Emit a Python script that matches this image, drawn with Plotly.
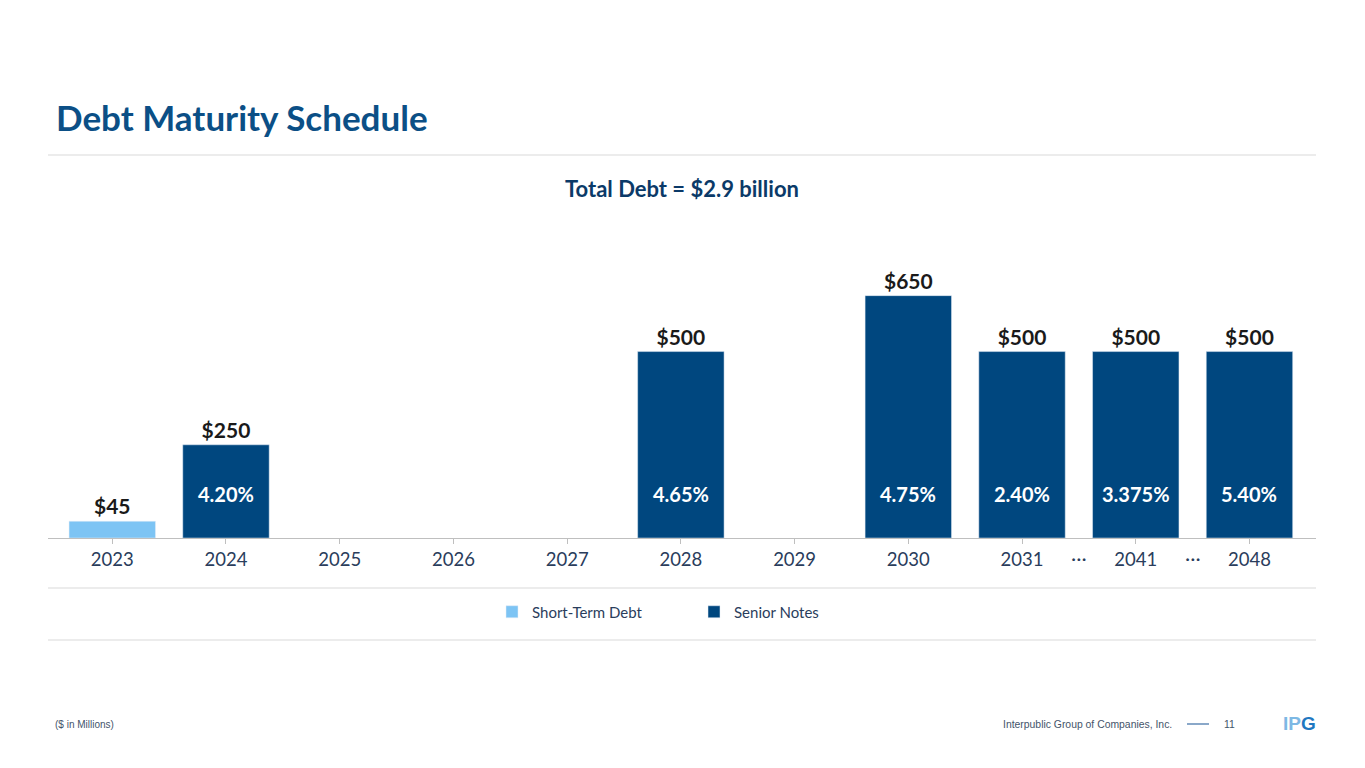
import plotly.graph_objects as go

# ---- data ----
categories = ["2023", "2024", "2025", "2026", "2027", "2028", "2029", "2030", "2031", "2041", "2048"]
short_term_years = ["2023"]
short_term_values = [45]
senior_years = ["2024", "2028", "2030", "2031", "2041", "2048"]
senior_values = [250, 500, 650, 500, 500, 500]
senior_rates = ["4.20%", "4.65%", "4.75%", "2.40%", "3.375%", "5.40%"]
gap_after = ["2031", "2041"]  # an ellipsis follows these categories

# ---- styles ----
DARK = "#00477F"
LIGHT = "#7DC4F4"
NAVY_TXT = "#2A3D5C"
GRID = "#D9D9D9"
FONT = "Lato"

OFF = 8            # page body margin
L, T = 40, 269     # plot margins (figure px)
PW, PH = 1268, 261 # plot area size
W, H = 1349, 752

idx = {c: i for i, c in enumerate(categories)}

def px(sx):  # screen x -> paper x
    return (sx - OFF - L) / PW

def py(sy):  # screen y -> paper y
    return (T + PH + OFF - sy) / PH

fig = go.Figure()
fig.add_trace(go.Bar(
    x=[idx[c] for c in short_term_years], y=short_term_values,
    name="Short-Term Debt", marker_color=LIGHT, width=0.76,
    text=[f"${v}" for v in short_term_values], textposition="outside",
    textfont=dict(family=FONT, size=21, color="#1A1A1A", weight="bold"),
    cliponaxis=False, hoverinfo="skip",
))
fig.add_trace(go.Bar(
    x=[idx[c] for c in senior_years], y=senior_values,
    name="Senior Notes", marker_color=DARK, width=0.76,
    text=[f"${v}" for v in senior_values], textposition="outside",
    textfont=dict(family=FONT, size=21, color="#1A1A1A", weight="bold"),
    cliponaxis=False, hoverinfo="skip",
))

annotations = []
RATE_Y = 118
for c, r in zip(senior_years, senior_rates):
    annotations.append(dict(x=idx[c], y=RATE_Y, xref="x", yref="y", text=f"<b>{r}</b>",
                            showarrow=False, font=dict(family=FONT, size=20, color="white")))
for c in gap_after:
    annotations.append(dict(x=idx[c] + 0.5, y=0, xref="x", yref="paper", yshift=-30,
                            text="...", showarrow=False,
                            font=dict(family=FONT, size=22, color=NAVY_TXT)))

annotations += [
    dict(x=px(54), y=py(117), xref="paper", yref="paper", xanchor="left", yanchor="middle",
         text="<b>Debt Maturity Schedule</b>", showarrow=False,
         font=dict(family=FONT, size=35, color="#0B4F86")),
    dict(x=px(682), y=py(188), xref="paper", yref="paper", xanchor="center", yanchor="middle",
         text="<b>Total Debt = $2.9 billion</b>", showarrow=False,
         font=dict(family=FONT, size=22, color="#0B3A68")),
    dict(x=px(53), y=py(724), xref="paper", yref="paper", xanchor="left", yanchor="middle",
         text="($ in Millions)", showarrow=False,
         font=dict(family="Liberation Sans", size=10, color="#44546A")),
    dict(x=px(1174), y=py(724), xref="paper", yref="paper", xanchor="right", yanchor="middle",
         text="Interpublic Group of Companies, Inc.", showarrow=False,
         font=dict(family="Liberation Sans", size=10.4, color="#44546A")),
    dict(x=px(1229), y=py(724), xref="paper", yref="paper", xanchor="center", yanchor="middle",
         text="11", showarrow=False,
         font=dict(family="Liberation Sans", size=10.4, color="#44546A")),
    dict(x=px(1281), y=py(723), xref="paper", yref="paper", xanchor="left", yanchor="middle",
         text="<b><span style='color:#7DB8E4'>IP</span><span style='color:#1F78C1'>G</span></b>",
         showarrow=False, font=dict(family="Liberation Sans", size=19)),
]

shapes = []
for yy in (155, 588, 640):
    shapes.append(dict(type="line", xref="paper", yref="paper", x0=0, x1=1, y0=py(yy), y1=py(yy),
                       line=dict(color=GRID, width=1)))
shapes.append(dict(type="line", xref="paper", yref="paper",
                   x0=px(1187), x1=px(1209), y0=py(724), y1=py(724),
                   line=dict(color="#3B6EA5", width=1.2)))

fig.update_layout(
    width=W, height=H,
    margin=dict(l=L, r=W - L - PW, t=T, b=H - T - PH),
    paper_bgcolor="white", plot_bgcolor="white",
    barmode="overlay",
    showlegend=True,
    legend=dict(orientation="h", x=px(694), xanchor="center", y=py(612), yanchor="middle",
                font=dict(family=FONT, size=15, color=NAVY_TXT),
                entrywidth=157, entrywidthmode="pixels", itemclick=False),
    xaxis=dict(range=[-0.565, 10.585], tickmode="array",
               tickvals=list(range(len(categories))), ticktext=categories,
               showgrid=False, zeroline=False, showline=True, linecolor="#BFBFBF", linewidth=1,
               ticks="outside", ticklen=5, tickcolor="#BFBFBF",
               tickfont=dict(family=FONT, size=18.5, color=NAVY_TXT)),
    yaxis=dict(range=[0, 700], visible=False, showgrid=False, zeroline=False),
    annotations=annotations, shapes=shapes,
)

fig.write_html("out.html")
